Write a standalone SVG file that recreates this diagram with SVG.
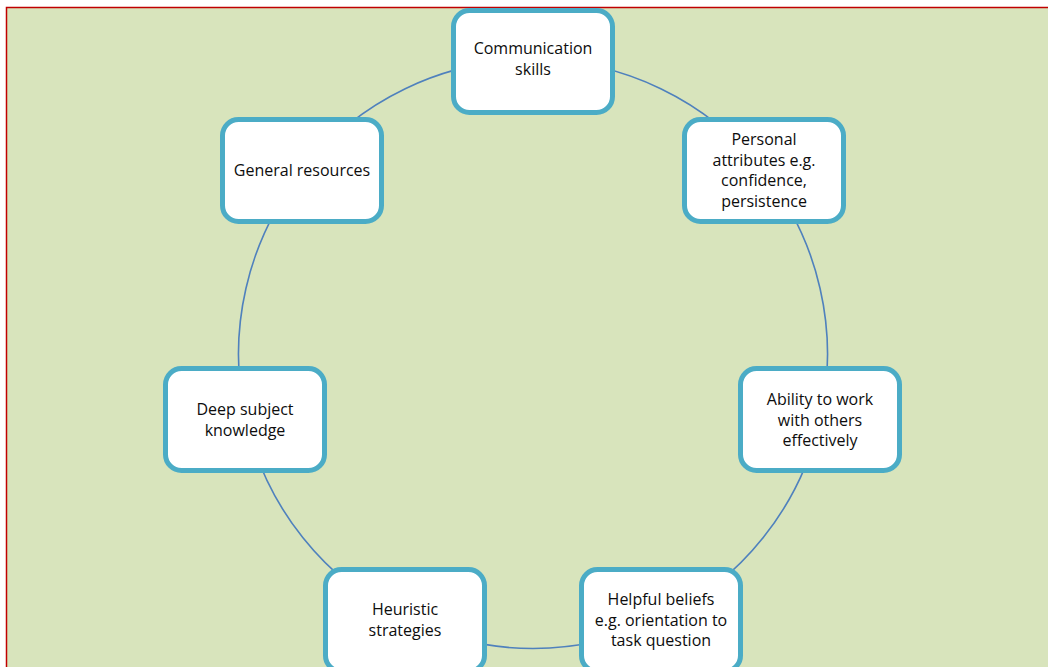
<svg xmlns="http://www.w3.org/2000/svg" width="1048" height="667" viewBox="0 0 1048 667">
  <defs>
    <style>
      .node rect { fill: #ffffff; stroke: #4bacc6; stroke-width: 5; }
      .node text { font-family: "Open Sans", "Noto Sans", "Liberation Sans", sans-serif; font-size: 16px; fill: #0d0d0d; text-anchor: middle; }
      .link { fill: none; stroke: #4f81bd; stroke-width: 1.6; }
    </style>
  </defs>

  <!-- page background and framed panel -->
  <rect x="0" y="0" width="1048" height="667" fill="#ffffff"/>
  <rect x="6.5" y="7.5" width="1060" height="680" fill="#d8e4bc" stroke="#c00000" stroke-width="1.5"/>

  <!-- ring of arcs joining the seven nodes -->
  <g id="connectors">
    <path class="link" d="M 533 59.5 A 294.5 294.5 0 0 1 763.2 170.4"/>
    <path class="link" d="M 763.2 170.4 A 294.5 294.5 0 0 1 820.1 419.5"/>
    <path class="link" d="M 820.1 419.5 A 294.5 294.5 0 0 1 660.8 619.3"/>
    <path class="link" d="M 660.8 619.3 A 294.5 294.5 0 0 1 405.2 619.3"/>
    <path class="link" d="M 405.2 619.3 A 294.5 294.5 0 0 1 245.9 419.5"/>
    <path class="link" d="M 245.9 419.5 A 294.5 294.5 0 0 1 302.8 170.4"/>
    <path class="link" d="M 302.8 170.4 A 294.5 294.5 0 0 1 533 59.5"/>
  </g>

  <g id="node-communication" class="node">
    <rect x="453.5" y="10.5" width="159" height="102" rx="16"/>
    <text x="533" y="54">Communication</text>
    <text x="533" y="75">skills</text>
  </g>

  <g id="node-personal" class="node">
    <rect x="684.5" y="119.5" width="159" height="102" rx="16"/>
    <text x="764" y="145">Personal</text>
    <text x="764" y="166">attributes e.g.</text>
    <text x="764" y="186">confidence,</text>
    <text x="764" y="207">persistence</text>
  </g>

  <g id="node-ability" class="node">
    <rect x="740.5" y="368.5" width="159" height="102" rx="16"/>
    <text x="820" y="405">Ability to work</text>
    <text x="820" y="426">with others</text>
    <text x="820" y="446">effectively</text>
  </g>

  <g id="node-beliefs" class="node">
    <rect x="581.5" y="569.5" width="159" height="102" rx="16"/>
    <text x="661" y="605">Helpful beliefs</text>
    <text x="661" y="626">e.g. orientation to</text>
    <text x="661" y="646">task question</text>
  </g>

  <g id="node-heuristic" class="node">
    <rect x="325.5" y="569.5" width="159" height="102" rx="16"/>
    <text x="405" y="615">Heuristic</text>
    <text x="405" y="636">strategies</text>
  </g>

  <g id="node-knowledge" class="node">
    <rect x="165.5" y="368.5" width="159" height="102" rx="16"/>
    <text x="245" y="415">Deep subject</text>
    <text x="245" y="436">knowledge</text>
  </g>

  <g id="node-resources" class="node">
    <rect x="222.5" y="119.5" width="159" height="102" rx="16"/>
    <text x="302" y="176">General resources</text>
  </g>
</svg>
